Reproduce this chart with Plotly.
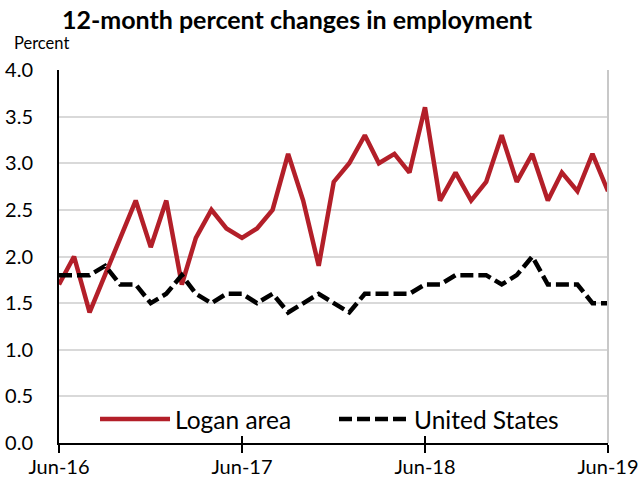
import plotly.graph_objects as go
import pandas as pd

months = pd.date_range("2016-06-01", "2019-06-01", freq="MS").strftime("%Y-%m-%d").tolist()

logan = [1.7, 2.0, 1.4, 1.8, 2.2, 2.6, 2.1, 2.6, 1.7, 2.2, 2.5, 2.3,
         2.2, 2.3, 2.5, 3.1, 2.6, 1.9, 2.8, 3.0, 3.3, 3.0, 3.1, 2.9,
         3.6, 2.6, 2.9, 2.6, 2.8, 3.3, 2.8, 3.1, 2.6, 2.9, 2.7, 3.1, 2.7]
us = [1.8, 1.8, 1.8, 1.9, 1.7, 1.7, 1.5, 1.6, 1.8, 1.6, 1.5, 1.6,
      1.6, 1.5, 1.6, 1.4, 1.5, 1.6, 1.5, 1.4, 1.6, 1.6, 1.6, 1.6,
      1.7, 1.7, 1.8, 1.8, 1.8, 1.7, 1.8, 2.0, 1.7, 1.7, 1.7, 1.5, 1.5]

tick_vals = ["2016-06-01", "2017-06-01", "2018-06-01", "2019-06-01"]
tick_text = ["Jun-16", "Jun-17", "Jun-18", "Jun-19"]
y_ticks = [0.0, 0.5, 1.0, 1.5, 2.0, 2.5, 3.0, 3.5, 4.0]

FONT = "Lato, 'Open Sans', sans-serif"
X_RANGE = ["2016-06-01", "2019-06-01"]

fig = go.Figure()
fig.add_trace(go.Scatter(x=months, y=logan, mode="lines", name="Logan area",
                         line=dict(color="#b31f29", width=4.5)))
fig.add_trace(go.Scatter(x=months, y=us, mode="lines", name="United States",
                         line=dict(color="black", width=4.5, dash="13px,5px")))
# helper trace so the overlay axis (inside tick marks) is drawn
fig.add_trace(go.Scatter(x=[months[0]], y=[None], xaxis="x2", yaxis="y",
                         showlegend=False, hoverinfo="skip", mode="lines"))

fig.update_layout(
    width=643, height=477,
    margin=dict(l=59, r=35, t=70, b=34, autoexpand=False),
    paper_bgcolor="white", plot_bgcolor="white",
    font=dict(family=FONT, color="black"),
    title=dict(text="<b>12-month percent changes in employment</b>",
               x=0.4335, xanchor="center", xref="paper",
               y=0.958, yanchor="middle", yref="container",
               font=dict(size=25, family=FONT, color="black")),
    showlegend=True,
    legend=dict(orientation="h", x=0.0656, xanchor="left", y=0.064, yanchor="middle",
                font=dict(size=24.5, family=FONT), bgcolor="rgba(255,255,255,0)",
                itemwidth=70, entrywidth=154),
    xaxis2=dict(overlaying="x", anchor="y", side="bottom", range=X_RANGE,
                tickvals=tick_vals, ticks="inside", ticklen=7, tickwidth=2,
                tickcolor="black", showticklabels=False, showgrid=False,
                showline=False, zeroline=False, automargin=False),
)
fig.add_annotation(text="Percent", xref="paper", yref="paper",
                   x=-0.0856, y=1.072, xanchor="left", yanchor="middle",
                   showarrow=False, font=dict(size=16.5, family=FONT))

fig.layout.xaxis.update(
    range=X_RANGE, tickvals=tick_vals, ticktext=tick_text,
    showgrid=False, showline=True, linecolor="black", linewidth=2,
    ticks="outside", ticklen=8, tickwidth=2, tickcolor="black",
    ticklabelstandoff=-3, automargin=False,
    tickfont=dict(size=20, family=FONT), zeroline=False,
)
fig.update_yaxes(
    range=[0, 4.0], tickvals=y_ticks, ticktext=[f"{v:.1f}" for v in y_ticks],
    showgrid=True, gridcolor="#d9d9d9", gridwidth=2,
    showline=True, linecolor="black", linewidth=2, ticks="",
    ticklabelstandoff=20, automargin=False,
    tickfont=dict(size=20, family=FONT), zeroline=False,
)
fig.add_shape(type="line", xref="paper", yref="paper", x0=1, x1=1, y0=0, y1=1,
              line=dict(color="#c8c8c8", width=2))

fig.write_html("out.html", config={"displayModeBar": False},
               post_script="document.body.style.margin='0';document.body.style.overflow='hidden';")
